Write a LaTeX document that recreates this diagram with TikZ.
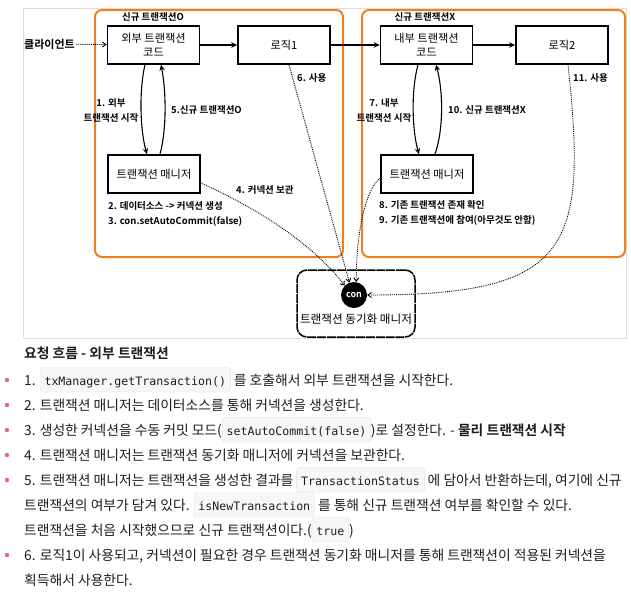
\documentclass[tikz,border=0pt]{standalone}
\usepackage{fontspec}
\setmainfont{Noto Sans CJK KR}[BoldFont={Noto Sans CJK KR Bold}]
\newfontfamily\codefont{DejaVu Sans Mono}
\usetikzlibrary{arrows.meta}
\definecolor{txorange}{RGB}{240,128,30}
\definecolor{framegray}{RGB}{221,221,221}
\definecolor{bulletred}{RGB}{228,104,116}
\definecolor{codegray}{RGB}{247,247,247}
\definecolor{bodyblack}{RGB}{30,30,30}
\tikzset{
	box/.style={draw=black, line width=1.6pt, minimum width=92pt, minimum height=38pt, align=center, inner sep=0pt, font=\fontsize{11.2}{14.5}\selectfont},
	lbl/.style={font=\bfseries\fontsize{9.5}{15}\selectfont, inner sep=0pt, align=center},
	solidarr/.style={line width=1.1pt, -{Stealth[length=6pt,width=5.5pt,inset=2pt]}},
	dotarr/.style={line width=0.9pt, densely dotted, -{Straight Barb[length=3.5pt,width=5pt]}},
	txgroup/.style={draw=txorange, line width=2pt, rounded corners=7pt},
	syncbox/.style={draw=black, line width=1.5pt, rounded corners=10pt, dash pattern=on 9pt off 0.8pt, minimum width=118pt, minimum height=67pt},
	connode/.style={circle, fill=black, text=white, minimum size=26pt, inner sep=0pt, font=\bfseries\fontsize{9}{10}\selectfont},
	textline/.style={anchor=base west, inner sep=0pt, text=bodyblack, font=\fontsize{13.8}{25}\selectfont},
	codebox/.style={draw=framegray, fill=codegray, rounded corners=3pt, inner xsep=4.5pt, inner ysep=4pt, text height=13.5pt, text depth=3pt, font=\codefont\fontsize{11.6}{14}\selectfont}
}
\def\inlinecode#1{\tikz[baseline=(cb.base)]\node[codebox] (cb) {#1};}

\begin{document}
\begin{tikzpicture}[x=1pt, y=-1pt]
		%%%%% START %%%%%
		\useasboundingbox (0,0) rectangle (631,603);
		\draw[framegray, line width=1pt] (23,8) rectangle (626,338);
		\draw[txgroup] (95,10) rectangle (343,257);
		\draw[txgroup] (362,10) rectangle (625,257);
		
		\node[lbl] (newO) at (153,17) {신규 트랜잭션O};
		\node[lbl] (newX) at (425,17) {신규 트랜잭션X};
		
		\node[box] (outer) at (153.5,45) {외부 트랜잭션\\코드};
		\node[box] (logic1) at (284,45) {로직1};
		\node[box] (inner) at (426.5,45) {내부 트랜잭션\\코드};
		\node[box] (logic2) at (562,45) {로직2};
		\node[box] (mgrL) at (154,174) {트랜잭션 매니저};
		\node[box] (mgrR) at (427,174) {트랜잭션 매니저};
		\node[font=\bfseries\fontsize{11}{12}\selectfont, anchor=west, inner sep=1pt] (client) at (23,44) {클라이언트};
		
		\node[syncbox] (sync) at (356,303.5) {};
		\node[connode] (con) at (354,295) {con};
		\node[font=\fontsize{11.6}{12}\selectfont, inner sep=0pt] (syncname) at (356,319) {트랜잭션 동기화 매니저};
		
		\node[lbl] (s1) at (111,110.5) {1. 외부\\트랜잭션 시작};
		\node[lbl, anchor=west] (s5) at (171,110) {5.신규 트랜잭션O};
		\node[lbl] (s7) at (384,110.5) {7. 내부\\트랜잭션 시작};
		\node[lbl, anchor=west] (s10) at (448,110) {10. 신규 트랜잭션X};
		\node[lbl, anchor=west] (s6) at (297,78) {6. 사용};
		\node[lbl, anchor=west] (s11) at (573,78) {11. 사용};
		\node[lbl, anchor=west] (s4) at (236,190) {4. 커넥션 보관};
		\node[lbl, anchor=west] (s2) at (108,206) {2. 데이터소스 -> 커넥션 생성};
		\node[lbl, anchor=west] (s3) at (108,221) {3. con.setAutoCommit(false)};
		\node[lbl, anchor=west] (s8) at (379,205) {8. 기존 트랜잭션 존재 확인};
		\node[lbl, anchor=west] (s9) at (379,220) {9. 기존 트랜잭션에 참여(아무것도 안함)};
		
		\draw[dotarr] (client) -- (outer);
		\draw[solidarr] (outer) -- (logic1);
		\draw[solidarr] (logic1) -- (inner);
		\draw[solidarr] (inner) -- (logic2);
		
		\draw[solidarr] ([xshift=-8.5]outer.south) .. controls (139,90) and (140,130) .. ([xshift=-7]mgrL.north);
		\draw[solidarr] ([xshift=6]mgrL.north) .. controls (167,128) and (166,90) .. ([xshift=7.5]outer.south);
		\draw[solidarr] ([xshift=-8.5]inner.south) .. controls (411,90) and (412,130) .. ([xshift=-8]mgrR.north);
		\draw[solidarr] ([xshift=8]mgrR.north) .. controls (444,128) and (443,90) .. ([xshift=9.5]inner.south);
		
		\draw[dotarr] ([xshift=5]logic1.south) -- (con.110);
		\draw[dotarr] ([yshift=-9]mgrL.east) .. controls (250,205) and (310,240) .. (con.135);
		\draw[dotarr] ([yshift=-4]mgrR.west) .. controls (365,190) and (356,235) .. (con.80);
		\draw[dotarr] ([xshift=6]logic2.south) .. controls (588,250) and (570,295) .. (con.east);
		
		%%%%% TEXT %%%%%
		\node[textline, font=\bfseries\fontsize{13.8}{25}\selectfont] (head) at (24,358) {요청 흐름 - 외부 트랜잭션};
		
		\fill[bulletred] (7,380) circle (2.2);
		\fill[bulletred] (7,405) circle (2.2);
		\fill[bulletred] (7,430) circle (2.2);
		\fill[bulletred] (7,455) circle (2.2);
		\fill[bulletred] (7,480) circle (2.2);
		\fill[bulletred] (7,555) circle (2.2);
		
		\node[textline] (item1) at (24,385) {1. \inlinecode{txManager.getTransaction()} 를 호출해서 외부 트랜잭션을 시작한다.};
		\node[textline] (item2) at (24,410) {2. 트랜잭션 매니저는 데이터소스를 통해 커넥션을 생성한다.};
		\node[textline] (item3) at (24,435) {3. 생성한 커넥션을 수동 커밋 모드(\inlinecode{setAutoCommit(false)})로 설정한다. - \textbf{물리 트랜잭션 시작}};
		\node[textline] (item4) at (24,460) {4. 트랜잭션 매니저는 트랜잭션 동기화 매니저에 커넥션을 보관한다.};
		\node[textline] (item5a) at (24,485) {5. 트랜잭션 매니저는 트랜잭션을 생성한 결과를 \inlinecode{TransactionStatus} 에 담아서 반환하는데, 여기에 신규};
		\node[textline] (item5b) at (24,510) {트랜잭션의 여부가 담겨 있다. \inlinecode{isNewTransaction} 를 통해 신규 트랜잭션 여부를 확인할 수 있다.};
		\node[textline] (item5c) at (24,535) {트랜잭션을 처음 시작했으므로 신규 트랜잭션이다.(\inlinecode{true})};
		\node[textline] (item6a) at (24,560) {6. 로직1이 사용되고, 커넥션이 필요한 경우 트랜잭션 동기화 매니저를 통해 트랜잭션이 적용된 커넥션을};
		\node[textline] (item6b) at (24,585) {획득해서 사용한다.};
		%%%%% END %%%%%
	\end{tikzpicture}
\end{document}
